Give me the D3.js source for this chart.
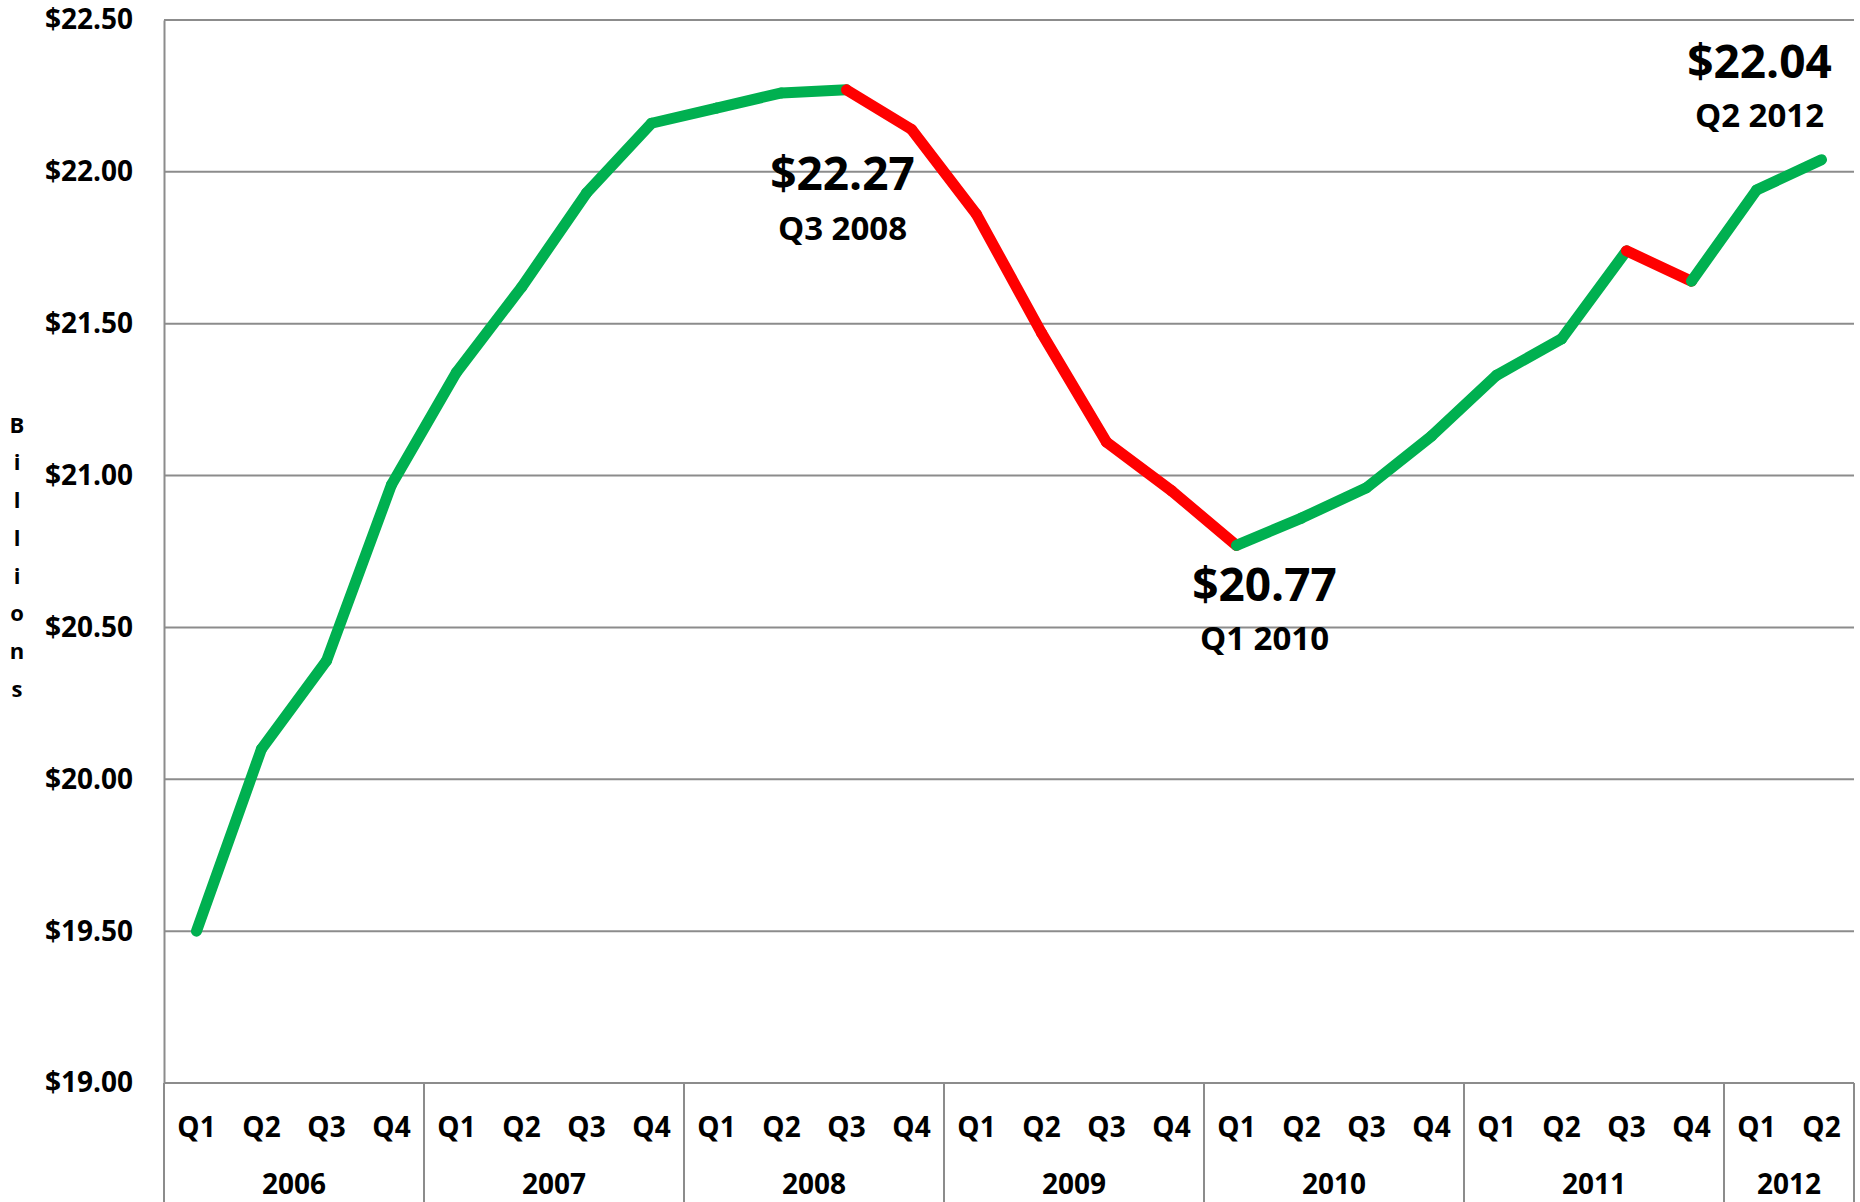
<!DOCTYPE html>
<html>
<head>
<meta charset="utf-8">
<script src="https://cdn.jsdelivr.net/npm/d3@7"></script>
<style>
  html, body { margin: 0; padding: 0; background: #fff; }
  svg { display: block; font-family: "Open Sans", "Noto Sans", sans-serif; font-weight: bold; }
</style>
</head>
<body>
<svg id="chart"></svg>
<script>
// quarterly values, Q1 2006 .. Q2 2012 (billions of dollars)
const years = ["2006", "2007", "2008", "2009", "2010", "2011", "2012"];
const quartersPerYear = [4, 4, 4, 4, 4, 4, 2];
const quarterNames = ["Q1", "Q2", "Q3", "Q4"];
const values = [
  19.50, 20.10, 20.39, 20.97,
  21.34, 21.62, 21.93, 22.16,
  22.21, 22.26, 22.27, 22.14,
  21.86, 21.47, 21.11, 20.95,
  20.77, 20.86, 20.96, 21.13,
  21.33, 21.45, 21.74, 21.64,
  21.94, 22.04
];
const yTicks = [19.00, 19.50, 20.00, 20.50, 21.00, 21.50, 22.00, 22.50];
const axisTitle = "Billions";
// points called out on the chart (index into values)
const callouts = [10, 16, 25];

const W = 1860, H = 1202;
const margin = { top: 20, right: 6, bottom: 119, left: 164 };
const green = "#00b050", red = "#ff0000", gridColor = "#8c8c8c";

// build quarter / year table
const points = [];
years.forEach((yr, yi) => {
  for (let q = 0; q < quartersPerYear[yi]; q++) {
    points.push({ year: yr, quarter: quarterNames[q], value: values[points.length] });
  }
});

const svg = d3.select("#chart").attr("width", W).attr("height", H);

const x = d3.scaleBand()
  .domain(d3.range(points.length))
  .range([margin.left, W - margin.right]);

const y = d3.scaleLinear()
  .domain([19, 22.5])
  .range([H - margin.bottom, margin.top]);

const cx = i => x(i) + x.bandwidth() / 2;

// gridlines
svg.append("g")
  .selectAll("line")
  .data(yTicks)
  .enter().append("line")
  .attr("x1", margin.left)
  .attr("x2", W - margin.right)
  .attr("y1", d => y(d))
  .attr("y2", d => y(d))
  .attr("stroke", gridColor)
  .attr("stroke-width", 2);

// left axis
const yAxis = svg.append("g")
  .attr("transform", "translate(" + margin.left + ",0)")
  .call(d3.axisLeft(y).tickValues(yTicks).tickSize(0).tickPadding(31).tickFormat(d => "$" + d.toFixed(2)));
yAxis.select(".domain").attr("stroke", gridColor).attr("stroke-width", 2);
yAxis.selectAll("text")
  .attr("fill", "#000")
  .style("font-size", "28px")
  .style("font-family", "'Open Sans', sans-serif")
  .style("font-weight", "bold");

// "Billions" stacked letters
svg.append("text")
  .attr("x", 17)
  .attr("y", 425)
  .attr("text-anchor", "middle")
  .style("font-size", "22px")
  .selectAll("tspan")
  .data(axisTitle.split(""))
  .enter().append("tspan")
  .attr("x", 17)
  .attr("dy", (d, i) => i === 0 ? "0.35em" : "37.7px")
  .text(d => d);

// category axis: quarter labels
const axisY = y(19);
svg.append("g")
  .selectAll("text")
  .data(points)
  .enter().append("text")
  .attr("x", (d, i) => cx(i))
  .attr("y", axisY + 44)
  .attr("dy", "0.35em")
  .attr("text-anchor", "middle")
  .style("font-size", "28px")
  .text(d => d.quarter);

// year labels and separators
let start = 0;
const yearSpans = years.map((yr, yi) => {
  const s = { year: yr, first: start, last: start + quartersPerYear[yi] - 1 };
  start += quartersPerYear[yi];
  return s;
});

svg.append("g")
  .selectAll("text")
  .data(yearSpans)
  .enter().append("text")
  .attr("x", d => (x(d.first) + x(d.last) + x.bandwidth()) / 2)
  .attr("y", axisY + 101)
  .attr("dy", "0.35em")
  .attr("text-anchor", "middle")
  .style("font-size", "28px")
  .text(d => d.year);

const sepX = yearSpans.map(d => x(d.first)).concat([x(points.length - 1) + x.bandwidth()]);
svg.append("g")
  .selectAll("line")
  .data(sepX)
  .enter().append("line")
  .attr("x1", d => d).attr("x2", d => d)
  .attr("y1", axisY).attr("y2", H)
  .attr("stroke", gridColor)
  .attr("stroke-width", 2);

// line segments, green going up, red going down
const segs = d3.range(points.length - 1).map(i => ({ a: i, b: i + 1 }));
svg.append("g")
  .selectAll("line")
  .data(segs)
  .enter().append("line")
  .attr("x1", d => cx(d.a))
  .attr("y1", d => y(points[d.a].value))
  .attr("x2", d => cx(d.b))
  .attr("y2", d => y(points[d.b].value))
  .attr("stroke", d => points[d.b].value < points[d.a].value ? red : green)
  .attr("stroke-width", 11)
  .attr("stroke-linecap", "round");

// callout labels
const calloutOffset = {
  10: { dx: -4, dy1: 84, dy2: 139 },
  16: { dx: 28, dy1: 39, dy2: 93 },
  25: { dx: -62, dy1: -98, dy2: -44 }
};
const cg = svg.append("g");
callouts.forEach(i => {
  const p = points[i], o = calloutOffset[i];
  const px = cx(i), py = y(p.value);
  cg.append("text")
    .attr("x", px + o.dx).attr("y", py + o.dy1).attr("dy", "0.35em")
    .attr("text-anchor", "middle")
    .style("font-size", "46px")
    .text("$" + p.value.toFixed(2));
  cg.append("text")
    .attr("x", px + o.dx).attr("y", py + o.dy2).attr("dy", "0.35em")
    .attr("text-anchor", "middle")
    .style("font-size", "33px")
    .text(p.quarter + " " + p.year);
});
</script>
</body>
</html>
